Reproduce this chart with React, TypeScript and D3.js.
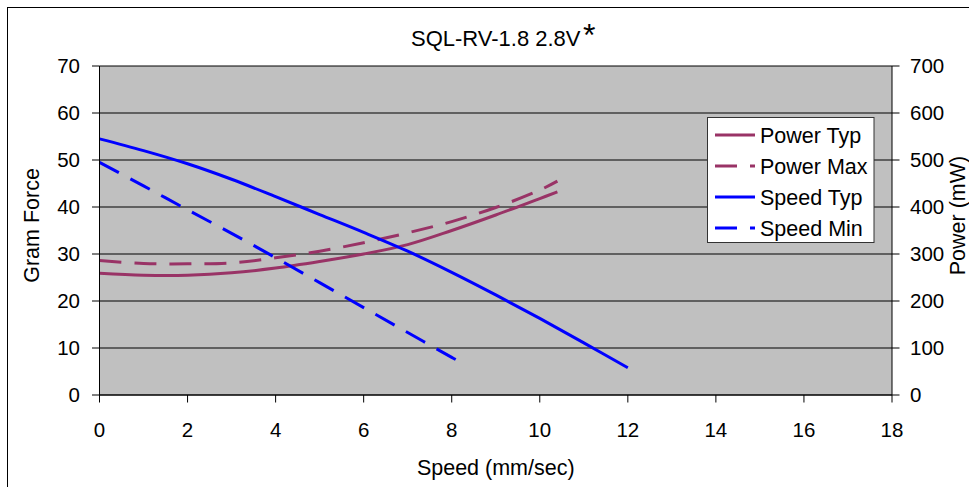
import React from "react";
import * as d3 from "d3";

const title = "SQL-RV-1.8 2.8V";
const xTicks = [0, 2, 4, 6, 8, 10, 12, 14, 16, 18];
const yLeftTicks = [0, 10, 20, 30, 40, 50, 60, 70];
const yRightTicks = [0, 100, 200, 300, 400, 500, 600, 700];

const powerX = [0, 1, 2, 3, 4, 5, 6, 7, 8, 9, 10, 10.4];
const powerTyp = [259, 255, 255, 260, 270, 284, 300, 320, 350, 383, 418, 432];
const powerMax = [286, 280, 279, 281, 292, 306, 324, 345, 369, 399, 436, 455];

const speedTypX = [0, 1, 2, 3, 4, 5, 6, 7, 8, 9, 10, 11, 12];
const speedTyp = [54.5, 52.0, 49.2, 45.9, 42.2, 38.4, 34.6, 30.6, 26.1, 21.3, 16.3, 11.1, 5.8];

const speedMinX = [0, 1, 2, 3, 4, 5, 6, 7, 8, 8.2];
const speedMin = [49.5, 44.5, 39.4, 34.4, 29.2, 23.9, 18.6, 13.3, 8.0, 7.0];

const seriesNames = ["Power Typ", "Power Max", "Speed Typ", "Speed Min"];

const W = 969;
const H = 487;
const L = 99.5;
const R = 892;
const T = 66;
const B = 395;
const FONT = "'Liberation Sans', Arial, sans-serif";
const PLUM = "#993366";
const BLUE = "#0000FF";
const DASH = "22 13";
const TICK_FS = 20.5;
const LABEL_FS = 21.5;

export default function App() {
  const x = d3.scaleLinear().domain([0, 18]).range([L, R]);
  const yL = d3.scaleLinear().domain([0, 70]).range([B, T]);
  const yR = d3.scaleLinear().domain([0, 700]).range([B, T]);

  const mk = (xs: number[], ys: number[], sy: d3.ScaleLinear<number, number>) =>
    d3
      .line<number>()
      .x((_, i) => x(xs[i]))
      .y((v) => sy(v))
      .curve(d3.curveCatmullRom.alpha(0.5))(ys) as string;

  const series = [
    { name: seriesNames[0], d: mk(powerX, powerTyp, yR), color: PLUM, dash: undefined },
    { name: seriesNames[1], d: mk(powerX, powerMax, yR), color: PLUM, dash: DASH },
    { name: seriesNames[2], d: mk(speedTypX, speedTyp, yL), color: BLUE, dash: undefined },
    { name: seriesNames[3], d: mk(speedMinX, speedMin, yL), color: BLUE, dash: DASH },
  ];

  const legX = 707.5;
  const legY = 117.5;
  const legW = 166.5;
  const legH = 125;
  const legRow0 = 135;
  const legStep = 31;

  return (
    <svg
      width={W}
      height={H}
      style={{ position: "absolute", left: 0, top: 0, background: "#fff" }}
      fontFamily={FONT}
    >
      <rect x={7.5} y={7.5} width={1100} height={1100} fill="#fff" stroke="#000" strokeWidth={1} />
      <rect x={L} y={T} width={R - L} height={B - T} fill="#C0C0C0" />
      {yLeftTicks.map((t) => (
        <line key={"g" + t} x1={L} x2={R} y1={yL(t)} y2={yL(t)} stroke="#000" strokeWidth={1} />
      ))}
      {series.map((s) => (
        <path
          key={s.name}
          d={s.d}
          fill="none"
          stroke={s.color}
          strokeWidth={3}
          strokeDasharray={s.dash}
        />
      ))}
      <line x1={L} x2={L} y1={T} y2={B} stroke="#000" />
      <line x1={R} x2={R} y1={T} y2={B} stroke="#000" />
      <line x1={L} x2={R} y1={B} y2={B} stroke="#000" />
      {yLeftTicks.map((t) => (
        <g key={"l" + t}>
          <line x1={L - 7.5} x2={L} y1={yL(t)} y2={yL(t)} stroke="#000" />
          <text x={80} y={yL(t)} dy="0.35em" textAnchor="end" fontSize={TICK_FS}>
            {t}
          </text>
        </g>
      ))}
      {yRightTicks.map((t) => (
        <g key={"r" + t}>
          <line x1={R} x2={R + 7.5} y1={yR(t)} y2={yR(t)} stroke="#000" />
          <text x={910} y={yR(t)} dy="0.35em" textAnchor="start" fontSize={TICK_FS}>
            {t}
          </text>
        </g>
      ))}
      {xTicks.map((t) => (
        <g key={"x" + t}>
          <line x1={x(t)} x2={x(t)} y1={B} y2={B + 7.5} stroke="#000" />
          <text x={x(t)} y={437} textAnchor="middle" fontSize={TICK_FS}>
            {t}
          </text>
        </g>
      ))}
      <text x={(L + R) / 2} y={475} textAnchor="middle" fontSize={LABEL_FS}>
        Speed (mm/sec)
      </text>
      <text
        transform={`translate(39,${(T + B) / 2 - 5}) rotate(-90)`}
        textAnchor="middle"
        fontSize={LABEL_FS}
      >
        Gram Force
      </text>
      <text
        transform={`translate(965,${(T + B) / 2 - 15}) rotate(-90)`}
        textAnchor="middle"
        fontSize={LABEL_FS}
      >
        Power (mW)
      </text>
      <text x={(L + R) / 2} y={45.5} textAnchor="middle" fontSize={22}>
        {title}
      </text>
      <text x={583} y={46} fontSize={32}>
        *
      </text>
      <rect x={legX} y={legY} width={legW} height={legH} fill="#fff" stroke="#333" strokeWidth={1} />
      {series.map((s, i) => (
        <g key={"leg" + s.name}>
          <line
            x1={715}
            x2={755}
            y1={legRow0 + i * legStep}
            y2={legRow0 + i * legStep}
            stroke={s.color}
            strokeWidth={3}
            strokeDasharray={s.dash}
          />
          <text x={760} y={legRow0 + i * legStep} dy="0.36em" fontSize={LABEL_FS}>
            {s.name}
          </text>
        </g>
      ))}
    </svg>
  );
}
